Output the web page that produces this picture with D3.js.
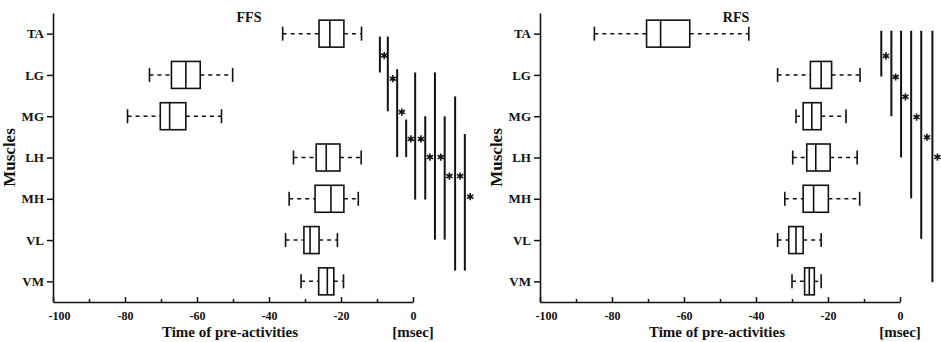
<!DOCTYPE html>
<html>
<head>
<meta charset="utf-8">
<script src="https://cdn.jsdelivr.net/npm/d3@7"></script>
<style>
  body { margin: 0; background: #fff; }
  svg text { font-family: "Liberation Serif", "DejaVu Serif", serif; font-weight: bold; fill: #111; }
</style>
</head>
<body>
<div id="chart"></div>
<script>
const muscles = ['TA', 'LG', 'MG', 'LH', 'MH', 'VL', 'VM'];
const xTicks = [-100, -80, -60, -40, -20, 0];
const xMinorTicks = [-90, -70, -50, -30, -10];

// FFS box values (msec)
const ffsMin = [-36.2, -73.2, -79.3, -33.2, -34.4, -35.4, -31.1];
const ffsQ1 = [-26.1, -67.1, -70.2, -26.9, -27.2, -30.3, -26.2];
const ffsMed = [-23.1, -63.1, -67.6, -24.1, -22.8, -28.6, -23.8];
const ffsQ3 = [-19.2, -59.1, -63.1, -20.3, -19.2, -26.1, -22.0];
const ffsMax = [-14.3, -50.1, -53.2, -14.4, -15.2, -21.0, -19.3];

// RFS box values (msec)
const rfsMin = [-84.9, -34.0, -28.9, -29.8, -32.0, -34.0, -30.0];
const rfsQ1 = [-70.4, -24.9, -26.9, -25.9, -26.9, -30.9, -26.5];
const rfsMed = [-66.5, -21.9, -24.5, -23.4, -24.0, -28.9, -25.2];
const rfsQ3 = [-58.4, -19.0, -21.9, -19.4, -19.9, -26.9, -23.8];
const rfsMax = [-42.0, -11.1, -15.0, -11.9, -11.2, -21.9, -21.9];

// significance bars: x in msec, span in muscle index units, star position
const ffsSigX = [-9.2, -7.0, -4.4, -1.9, 0.6, 3.4, 6.1, 8.8, 11.7, 14.4];
const ffsSigFrom = [0.07, 0.07, 0.86, 2.08, 0.94, 2.0, 0.94, 2.0, 1.52, 2.43];
const ffsSigTo = [0.94, 1.88, 2.99, 2.99, 4.02, 4.02, 4.99, 4.99, 5.74, 5.74];
const ffsStarX = [-8.0, -5.6, -3.1, -0.6, 2.2, 4.7, 7.7, 10.1, 13.1, 15.9];
const ffsStarY = [0.53, 1.09, 1.90, 2.55, 2.55, 2.99, 2.99, 3.45, 3.45, 3.95];

const rfsSigX = [-5.2, -2.4, 0.3, 3.1, 5.9, 9.0];
const rfsSigFrom = [-0.07, -0.07, -0.07, -0.07, -0.07, -0.07];
const rfsSigTo = [1.04, 2.0, 3.0, 3.99, 4.97, 6.02];
const rfsStarX = [-3.9, -1.2, 1.5, 4.6, 7.5, 10.4];
const rfsStarY = [0.54, 1.05, 1.53, 2.02, 2.51, 2.99];

const W = 941, H = 342;
const svg = d3.select('#chart').append('svg').attr('width', W).attr('height', H);

const panelW = 360, plotTop = 13, plotBottom = 302;
const boxH = 27, capH = 14;
const star = d3.symbol(d3.symbolAsterisk, 36);

function drawPanel(left, title, mins, q1s, meds, q3s, maxs, sigX, sigFrom, sigTo, starX, starY) {
  const g = svg.append('g').attr('transform', 'translate(' + left + ',0)');

  const x = d3.scaleLinear().domain([-100, 0]).range([0, panelW]);
  const y = d3.scalePoint().domain(muscles).range([plotTop, plotBottom]).padding(0.5);
  const yIdx = d3.scaleLinear().domain([0, 6]).range([y(muscles[0]), y(muscles[6])]);

  // x axis, ticks pointing up
  const xAxis = g.append('g')
    .attr('transform', 'translate(0,' + plotBottom + ')')
    .call(d3.axisBottom(x).tickValues(xTicks).tickFormat((d) => String(d))
      .tickSizeInner(-5).tickSizeOuter(0).tickPadding(9));
  xAxis.selectAll('text')
    .style('font-size', '12px')
    .attr('dx', (d) => (d === -100 ? 6 : 0));
  g.append('g')
    .attr('transform', 'translate(0,' + plotBottom + ')')
    .call(d3.axisBottom(x).tickValues(xMinorTicks).tickSizeInner(-3).tickSizeOuter(0).tickFormat(''))
    .select('.domain').remove();

  // y axis
  const yAxis = g.append('g')
    .call(d3.axisLeft(y).tickSizeInner(6).tickSizeOuter(0).tickPadding(3));
  yAxis.selectAll('text').style('font-size', '13px');

  g.selectAll('.domain').attr('stroke', '#111').attr('stroke-width', 1.6);
  g.selectAll('.tick line').attr('stroke', '#111').attr('stroke-width', 1.5);

  // boxes
  const rows = muscles.map((m, i) => ({ m, min: mins[i], q1: q1s[i], med: meds[i], q3: q3s[i], max: maxs[i] }));
  const box = g.selectAll('.box').data(rows).join('g').attr('class', 'box');

  box.append('line')
    .attr('x1', (d) => x(d.min)).attr('x2', (d) => x(d.q1))
    .attr('y1', (d) => y(d.m)).attr('y2', (d) => y(d.m))
    .attr('stroke', '#111').attr('stroke-width', 1.5).attr('stroke-dasharray', '4,4');
  box.append('line')
    .attr('x1', (d) => x(d.q3)).attr('x2', (d) => x(d.max))
    .attr('y1', (d) => y(d.m)).attr('y2', (d) => y(d.m))
    .attr('stroke', '#111').attr('stroke-width', 1.5).attr('stroke-dasharray', '4,4');
  ['min', 'max'].forEach((k) => {
    box.append('line')
      .attr('x1', (d) => x(d[k])).attr('x2', (d) => x(d[k]))
      .attr('y1', (d) => y(d.m) - capH / 2).attr('y2', (d) => y(d.m) + capH / 2)
      .attr('stroke', '#111').attr('stroke-width', 1.6);
  });
  box.append('rect')
    .attr('x', (d) => x(d.q1))
    .attr('width', (d) => x(d.q3) - x(d.q1))
    .attr('y', (d) => y(d.m) - boxH / 2)
    .attr('height', boxH)
    .attr('fill', '#fff').attr('stroke', '#111').attr('stroke-width', 1.6);
  box.append('line')
    .attr('x1', (d) => x(d.med)).attr('x2', (d) => x(d.med))
    .attr('y1', (d) => y(d.m) - boxH / 2).attr('y2', (d) => y(d.m) + boxH / 2)
    .attr('stroke', '#111').attr('stroke-width', 1.6);

  // significance bars
  const sig = sigX.map((v, i) => ({ x: v, y0: sigFrom[i], y1: sigTo[i] }));
  g.selectAll('.sig').data(sig).join('line')
    .attr('class', 'sig')
    .attr('x1', (d) => x(d.x)).attr('x2', (d) => x(d.x))
    .attr('y1', (d) => yIdx(d.y0)).attr('y2', (d) => yIdx(d.y1))
    .attr('stroke', '#111').attr('stroke-width', 2);
  const stars = starX.map((v, i) => ({ x: v, y: starY[i] }));
  g.selectAll('.star').data(stars).join('path')
    .attr('class', 'star')
    .attr('transform', (d) => 'translate(' + x(d.x) + ',' + yIdx(d.y) + ')')
    .attr('d', star)
    .attr('fill', 'none').attr('stroke', '#111').attr('stroke-width', 1.6);

  // titles and labels
  g.append('text')
    .attr('x', 196).attr('y', 22)
    .attr('text-anchor', 'middle')
    .style('font-size', '14px')
    .text(title);
  g.append('text')
    .attr('x', 177).attr('y', 337)
    .attr('text-anchor', 'middle')
    .style('font-size', '15px')
    .text('Time of pre-activities');
  g.append('text')
    .attr('x', x(0)).attr('y', 337)
    .attr('text-anchor', 'middle')
    .style('font-size', '15px')
    .text('[msec]');
  g.append('text')
    .attr('transform', 'translate(-38,' + ((plotTop + plotBottom) / 2) + ') rotate(-90)')
    .attr('text-anchor', 'middle')
    .style('font-size', '17px')
    .text('Muscles');
}

drawPanel(53, 'FFS', ffsMin, ffsQ1, ffsMed, ffsQ3, ffsMax, ffsSigX, ffsSigFrom, ffsSigTo, ffsStarX, ffsStarY);
drawPanel(540, 'RFS', rfsMin, rfsQ1, rfsMed, rfsQ3, rfsMax, rfsSigX, rfsSigFrom, rfsSigTo, rfsStarX, rfsStarY);
</script>
</body>
</html>
